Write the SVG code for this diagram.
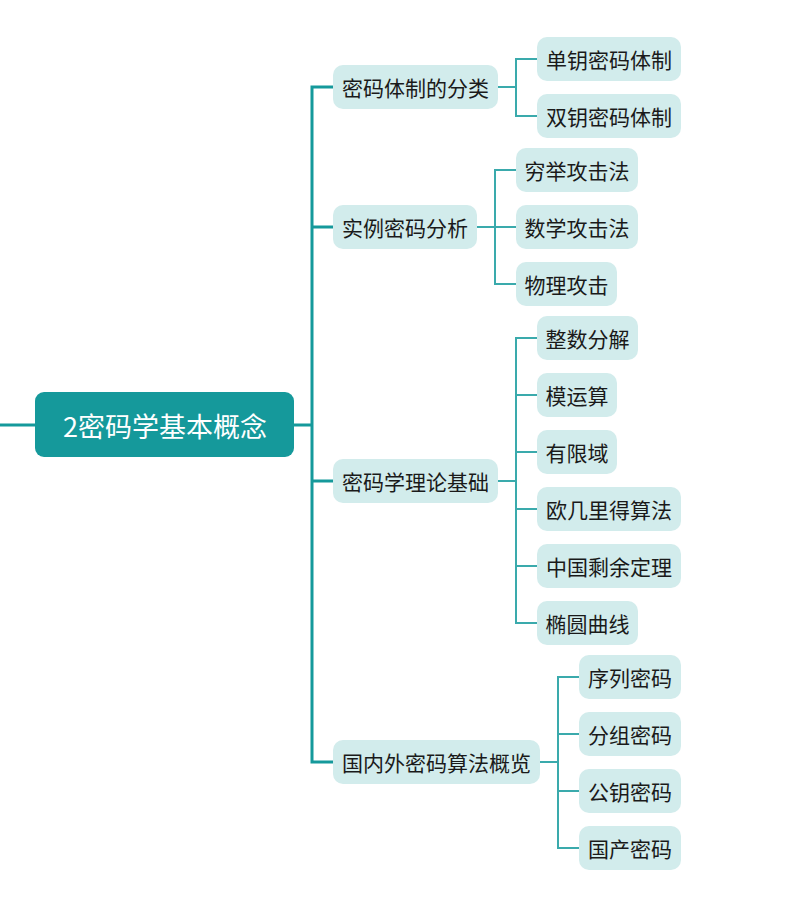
<svg xmlns="http://www.w3.org/2000/svg" width="794" height="903" viewBox="0 0 794 903">
<style>
.n rect{fill:#d2ecec}
.n text{font-family:"Noto Sans CJK SC","Liberation Sans",sans-serif;font-size:21px;fill:#1a1a1a;text-anchor:middle;dominant-baseline:central}
.main{fill:none;stroke:#15999b;stroke-width:3}
.sub{fill:none;stroke:#3aaaac;stroke-width:2}
</style>
<rect width="794" height="903" fill="#fff"/>
<g id="connectors">
<path class="main" d="M0 425H35M294 425H312M333 87H312V762H333M312 227H333M312 481H333"/>
<path class="sub" d="M498 87H516M537 59H516V116H537"/>
<path class="sub" d="M477 227H495M516 170H495V284H516M495 227H516"/>
<path class="sub" d="M498 481H516M537 338H516V623H537M516 395H537M516 452H537M516 509H537M516 566H537"/>
<path class="sub" d="M540 762H558M579 677H558V848H579M558 734H579M558 791H579"/>
</g>
<g id="root"><rect x="35" y="392" width="259" height="65" rx="9" fill="#15999b"/><text x="165" y="425" font-family="Noto Sans CJK SC,Liberation Sans,sans-serif" font-size="27" fill="#fff" text-anchor="middle" dominant-baseline="central">2密码学基本概念</text></g>
<g id="n1" class="n"><rect x="333" y="65" width="165" height="44" rx="10"/><text x="415.5" y="87">密码体制的分类</text></g>
<g id="n2" class="n"><rect x="333" y="205" width="144" height="44" rx="10"/><text x="405" y="227">实例密码分析</text></g>
<g id="n3" class="n"><rect x="333" y="459" width="165" height="44" rx="10"/><text x="415.5" y="481">密码学理论基础</text></g>
<g id="n4" class="n"><rect x="333" y="740" width="207" height="44" rx="10"/><text x="436.5" y="762">国内外密码算法概览</text></g>
<g id="n1a" class="n"><rect x="537" y="37" width="144" height="44" rx="10"/><text x="609" y="59">单钥密码体制</text></g>
<g id="n1b" class="n"><rect x="537" y="94" width="144" height="44" rx="10"/><text x="609" y="116">双钥密码体制</text></g>
<g id="n2a" class="n"><rect x="516" y="148" width="122" height="44" rx="10"/><text x="577" y="170">穷举攻击法</text></g>
<g id="n2b" class="n"><rect x="516" y="205" width="122" height="44" rx="10"/><text x="577" y="227">数学攻击法</text></g>
<g id="n2c" class="n"><rect x="516" y="262" width="101" height="44" rx="10"/><text x="566.5" y="284">物理攻击</text></g>
<g id="n3a" class="n"><rect x="537" y="316" width="101" height="44" rx="10"/><text x="587.5" y="338">整数分解</text></g>
<g id="n3b" class="n"><rect x="537" y="373" width="80" height="44" rx="10"/><text x="577" y="395">模运算</text></g>
<g id="n3c" class="n"><rect x="537" y="430" width="80" height="44" rx="10"/><text x="577" y="452">有限域</text></g>
<g id="n3d" class="n"><rect x="537" y="487" width="144" height="44" rx="10"/><text x="609" y="509">欧几里得算法</text></g>
<g id="n3e" class="n"><rect x="537" y="544" width="144" height="44" rx="10"/><text x="609" y="566">中国剩余定理</text></g>
<g id="n3f" class="n"><rect x="537" y="601" width="101" height="44" rx="10"/><text x="587.5" y="623">椭圆曲线</text></g>
<g id="n4a" class="n"><rect x="579" y="655" width="102" height="44" rx="10"/><text x="630" y="677">序列密码</text></g>
<g id="n4b" class="n"><rect x="579" y="712" width="102" height="44" rx="10"/><text x="630" y="734">分组密码</text></g>
<g id="n4c" class="n"><rect x="579" y="769" width="102" height="44" rx="10"/><text x="630" y="791">公钥密码</text></g>
<g id="n4d" class="n"><rect x="579" y="826" width="102" height="44" rx="10"/><text x="630" y="848">国产密码</text></g>
</svg>
